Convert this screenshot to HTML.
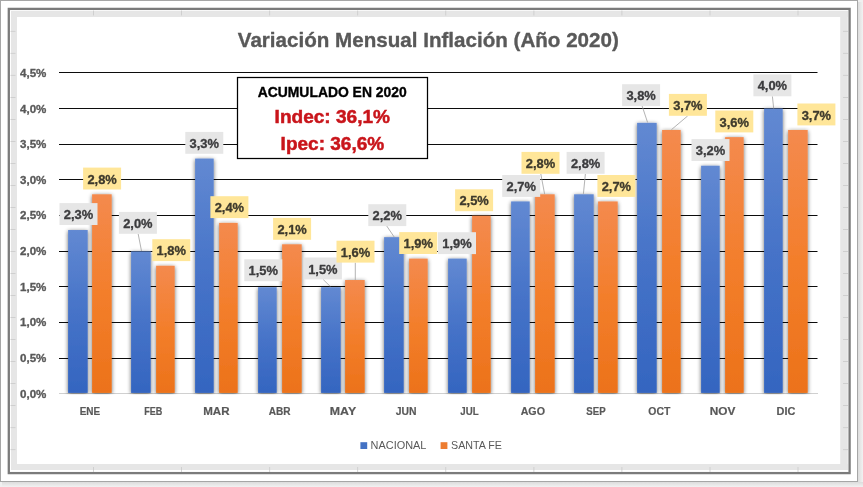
<!DOCTYPE html>
<html lang="es">
<head>
<meta charset="utf-8">
<title>Variación Mensual Inflación (Año 2020)</title>
<style>
html,body{margin:0;padding:0;background:#ebebeb;}
body{width:863px;height:487px;overflow:hidden;}
svg{display:block;}
text{font-family:"Liberation Sans",sans-serif;}
.b{font-weight:bold;}
.s{stroke-width:0.35px;stroke-linejoin:round;}
</style>
</head>
<body>
<svg width="863" height="487" viewBox="0 0 863 487">
<defs>
<linearGradient id="gb" x1="0" y1="0" x2="0" y2="1"><stop offset="0" stop-color="#6289d2"/><stop offset="0.5" stop-color="#4673c8"/><stop offset="1" stop-color="#3465c0"/></linearGradient>
<linearGradient id="go" x1="0" y1="0" x2="0" y2="1"><stop offset="0" stop-color="#f48a4e"/><stop offset="0.5" stop-color="#f37e2b"/><stop offset="1" stop-color="#ec721a"/></linearGradient>
<linearGradient id="sr" x1="0" y1="0" x2="1" y2="0"><stop offset="0" stop-color="#dcdcdc"/><stop offset="1" stop-color="#f2f2f2"/></linearGradient>
<linearGradient id="sb" x1="0" y1="0" x2="0" y2="1"><stop offset="0" stop-color="#dcdcdc"/><stop offset="1" stop-color="#f2f2f2"/></linearGradient>
<filter id="sh" x="-40%" y="-5%" width="180%" height="110%"><feGaussianBlur in="SourceAlpha" stdDeviation="2"/><feOffset dx="0" dy="1.2"/><feComponentTransfer><feFuncA type="linear" slope="0.6"/></feComponentTransfer><feMerge><feMergeNode/><feMergeNode in="SourceGraphic"/></feMerge></filter>
<clipPath id="cp"><rect x="40" y="40" width="800" height="354.3"/></clipPath>
</defs>

<rect x="0" y="0" width="863" height="487" fill="#f0f0f0"/>
<rect x="858" y="2" width="5" height="485" fill="url(#sr)"/>
<rect x="2" y="482" width="861" height="5" fill="url(#sb)"/>
<rect x="0.5" y="0.5" width="857" height="481" fill="#ffffff" stroke="#a6a6a6" stroke-width="1"/>
<rect x="8.8" y="8.9" width="840.8" height="464.2" fill="#ffffff" stroke="#7b7b7b" stroke-width="2.3"/>
<rect x="11" y="11" width="837" height="6" fill="#e6e6e6"/>
<rect x="11" y="464" width="837" height="6" fill="#e6e6e6"/>
<rect x="11" y="11" width="6" height="459" fill="#e6e6e6"/>
<rect x="840.2" y="11" width="7.6" height="459" fill="#e6e6e6"/>
<rect x="93.2" y="10.5" width="0.8" height="5" fill="#cacaca"/>
<rect x="93.2" y="467" width="0.8" height="5" fill="#cacaca"/>
<rect x="181.2" y="10.5" width="0.8" height="5" fill="#cacaca"/>
<rect x="181.2" y="467" width="0.8" height="5" fill="#cacaca"/>
<rect x="269.3" y="10.5" width="0.8" height="5" fill="#cacaca"/>
<rect x="269.3" y="467" width="0.8" height="5" fill="#cacaca"/>
<rect x="357.3" y="10.5" width="0.8" height="5" fill="#cacaca"/>
<rect x="357.3" y="467" width="0.8" height="5" fill="#cacaca"/>
<rect x="445.4" y="10.5" width="0.8" height="5" fill="#cacaca"/>
<rect x="445.4" y="467" width="0.8" height="5" fill="#cacaca"/>
<rect x="533.5" y="10.5" width="0.8" height="5" fill="#cacaca"/>
<rect x="533.5" y="467" width="0.8" height="5" fill="#cacaca"/>
<rect x="621.5" y="10.5" width="0.8" height="5" fill="#cacaca"/>
<rect x="621.5" y="467" width="0.8" height="5" fill="#cacaca"/>
<rect x="709.6" y="10.5" width="0.8" height="5" fill="#cacaca"/>
<rect x="709.6" y="467" width="0.8" height="5" fill="#cacaca"/>
<rect x="797.6" y="10.5" width="0.8" height="5" fill="#cacaca"/>
<rect x="797.6" y="467" width="0.8" height="5" fill="#cacaca"/>
<rect x="10.5" y="30.9" width="5" height="0.8" fill="#cacaca"/>
<rect x="843" y="30.9" width="5" height="0.8" fill="#cacaca"/>
<rect x="10.5" y="52.9" width="5" height="0.8" fill="#cacaca"/>
<rect x="843" y="52.9" width="5" height="0.8" fill="#cacaca"/>
<rect x="10.5" y="74.9" width="5" height="0.8" fill="#cacaca"/>
<rect x="843" y="74.9" width="5" height="0.8" fill="#cacaca"/>
<rect x="10.5" y="97.0" width="5" height="0.8" fill="#cacaca"/>
<rect x="843" y="97.0" width="5" height="0.8" fill="#cacaca"/>
<rect x="10.5" y="119.0" width="5" height="0.8" fill="#cacaca"/>
<rect x="843" y="119.0" width="5" height="0.8" fill="#cacaca"/>
<rect x="10.5" y="141.0" width="5" height="0.8" fill="#cacaca"/>
<rect x="843" y="141.0" width="5" height="0.8" fill="#cacaca"/>
<rect x="10.5" y="163.0" width="5" height="0.8" fill="#cacaca"/>
<rect x="843" y="163.0" width="5" height="0.8" fill="#cacaca"/>
<rect x="10.5" y="185.0" width="5" height="0.8" fill="#cacaca"/>
<rect x="843" y="185.0" width="5" height="0.8" fill="#cacaca"/>
<rect x="10.5" y="207.1" width="5" height="0.8" fill="#cacaca"/>
<rect x="843" y="207.1" width="5" height="0.8" fill="#cacaca"/>
<rect x="10.5" y="229.1" width="5" height="0.8" fill="#cacaca"/>
<rect x="843" y="229.1" width="5" height="0.8" fill="#cacaca"/>
<rect x="10.5" y="251.1" width="5" height="0.8" fill="#cacaca"/>
<rect x="843" y="251.1" width="5" height="0.8" fill="#cacaca"/>
<rect x="10.5" y="273.1" width="5" height="0.8" fill="#cacaca"/>
<rect x="843" y="273.1" width="5" height="0.8" fill="#cacaca"/>
<rect x="10.5" y="295.1" width="5" height="0.8" fill="#cacaca"/>
<rect x="843" y="295.1" width="5" height="0.8" fill="#cacaca"/>
<rect x="10.5" y="317.2" width="5" height="0.8" fill="#cacaca"/>
<rect x="843" y="317.2" width="5" height="0.8" fill="#cacaca"/>
<rect x="10.5" y="339.2" width="5" height="0.8" fill="#cacaca"/>
<rect x="843" y="339.2" width="5" height="0.8" fill="#cacaca"/>
<rect x="10.5" y="361.2" width="5" height="0.8" fill="#cacaca"/>
<rect x="843" y="361.2" width="5" height="0.8" fill="#cacaca"/>
<rect x="10.5" y="383.2" width="5" height="0.8" fill="#cacaca"/>
<rect x="843" y="383.2" width="5" height="0.8" fill="#cacaca"/>
<rect x="10.5" y="405.2" width="5" height="0.8" fill="#cacaca"/>
<rect x="843" y="405.2" width="5" height="0.8" fill="#cacaca"/>
<rect x="10.5" y="427.3" width="5" height="0.8" fill="#cacaca"/>
<rect x="843" y="427.3" width="5" height="0.8" fill="#cacaca"/>
<rect x="10.5" y="449.3" width="5" height="0.8" fill="#cacaca"/>
<rect x="843" y="449.3" width="5" height="0.8" fill="#cacaca"/>
<text class="b s" x="428.3" y="46.7" font-size="20.4" fill="#595959" stroke="#595959" text-anchor="middle" textLength="381" lengthAdjust="spacingAndGlyphs">Variación Mensual Inflación (Año 2020)</text>
<rect x="59" y="393.00" width="759" height="1" fill="#d0d0d0"/>
<text class="b" x="46.4" y="397.60" font-size="10.5" fill="#595959" stroke="#595959" stroke-width="0.3" text-anchor="end" textLength="26.4" lengthAdjust="spacingAndGlyphs">0,0%</text>
<rect x="59" y="358.00" width="758.5" height="1" fill="#0c0c0c"/>
<text class="b" x="46.4" y="361.97" font-size="10.5" fill="#595959" stroke="#595959" stroke-width="0.3" text-anchor="end" textLength="26.4" lengthAdjust="spacingAndGlyphs">0,5%</text>
<rect x="59" y="322.00" width="758.5" height="1" fill="#0c0c0c"/>
<text class="b" x="46.4" y="326.34" font-size="10.5" fill="#595959" stroke="#595959" stroke-width="0.3" text-anchor="end" textLength="26.4" lengthAdjust="spacingAndGlyphs">1,0%</text>
<rect x="59" y="286.00" width="758.5" height="1" fill="#0c0c0c"/>
<text class="b" x="46.4" y="290.71" font-size="10.5" fill="#595959" stroke="#595959" stroke-width="0.3" text-anchor="end" textLength="26.4" lengthAdjust="spacingAndGlyphs">1,5%</text>
<rect x="59" y="251.00" width="758.5" height="1" fill="#0c0c0c"/>
<text class="b" x="46.4" y="255.08" font-size="10.5" fill="#595959" stroke="#595959" stroke-width="0.3" text-anchor="end" textLength="26.4" lengthAdjust="spacingAndGlyphs">2,0%</text>
<rect x="59" y="215.00" width="758.5" height="1" fill="#0c0c0c"/>
<text class="b" x="46.4" y="219.45" font-size="10.5" fill="#595959" stroke="#595959" stroke-width="0.3" text-anchor="end" textLength="26.4" lengthAdjust="spacingAndGlyphs">2,5%</text>
<rect x="59" y="179.00" width="758.5" height="1" fill="#0c0c0c"/>
<text class="b" x="46.4" y="183.82" font-size="10.5" fill="#595959" stroke="#595959" stroke-width="0.3" text-anchor="end" textLength="26.4" lengthAdjust="spacingAndGlyphs">3,0%</text>
<rect x="59" y="144.00" width="758.5" height="1" fill="#0c0c0c"/>
<text class="b" x="46.4" y="148.19" font-size="10.5" fill="#595959" stroke="#595959" stroke-width="0.3" text-anchor="end" textLength="26.4" lengthAdjust="spacingAndGlyphs">3,5%</text>
<rect x="59" y="108.00" width="758.5" height="1" fill="#0c0c0c"/>
<text class="b" x="46.4" y="112.56" font-size="10.5" fill="#595959" stroke="#595959" stroke-width="0.3" text-anchor="end" textLength="26.4" lengthAdjust="spacingAndGlyphs">4,0%</text>
<rect x="59" y="72.00" width="758.5" height="1" fill="#0c0c0c"/>
<text class="b" x="46.4" y="76.93" font-size="10.5" fill="#595959" stroke="#595959" stroke-width="0.3" text-anchor="end" textLength="26.4" lengthAdjust="spacingAndGlyphs">4,5%</text>
<g clip-path="url(#cp)">
<rect x="68.1" y="230.02" width="19.6" height="162.88" fill="url(#gb)" filter="url(#sh)"/>
<rect x="92.1" y="194.29" width="19.6" height="198.61" fill="url(#go)" filter="url(#sh)"/>
<rect x="131.1" y="251.45" width="19.6" height="141.45" fill="url(#gb)" filter="url(#sh)"/>
<rect x="156.1" y="265.74" width="18.6" height="127.16" fill="url(#go)" filter="url(#sh)"/>
<rect x="195.1" y="158.57" width="18.6" height="234.33" fill="url(#gb)" filter="url(#sh)"/>
<rect x="219.1" y="222.87" width="18.6" height="170.03" fill="url(#go)" filter="url(#sh)"/>
<rect x="258.1" y="287.18" width="18.6" height="105.72" fill="url(#gb)" filter="url(#sh)"/>
<rect x="282.1" y="244.31" width="19.6" height="148.59" fill="url(#go)" filter="url(#sh)"/>
<rect x="321.1" y="287.18" width="19.6" height="105.72" fill="url(#gb)" filter="url(#sh)"/>
<rect x="345.1" y="280.03" width="19.6" height="112.87" fill="url(#go)" filter="url(#sh)"/>
<rect x="384.1" y="237.16" width="19.6" height="155.74" fill="url(#gb)" filter="url(#sh)"/>
<rect x="409.1" y="258.60" width="18.6" height="134.30" fill="url(#go)" filter="url(#sh)"/>
<rect x="448.1" y="258.60" width="18.6" height="134.30" fill="url(#gb)" filter="url(#sh)"/>
<rect x="472.1" y="215.73" width="18.6" height="177.17" fill="url(#go)" filter="url(#sh)"/>
<rect x="511.1" y="201.44" width="18.6" height="191.46" fill="url(#gb)" filter="url(#sh)"/>
<rect x="535.1" y="194.29" width="19.6" height="198.61" fill="url(#go)" filter="url(#sh)"/>
<rect x="574.1" y="194.29" width="19.6" height="198.61" fill="url(#gb)" filter="url(#sh)"/>
<rect x="598.1" y="201.44" width="19.6" height="191.46" fill="url(#go)" filter="url(#sh)"/>
<rect x="637.1" y="122.84" width="19.6" height="270.06" fill="url(#gb)" filter="url(#sh)"/>
<rect x="662.1" y="129.99" width="18.6" height="262.91" fill="url(#go)" filter="url(#sh)"/>
<rect x="701.1" y="165.71" width="18.6" height="227.19" fill="url(#gb)" filter="url(#sh)"/>
<rect x="725.1" y="137.13" width="18.6" height="255.77" fill="url(#go)" filter="url(#sh)"/>
<rect x="764.1" y="108.55" width="18.6" height="284.35" fill="url(#gb)" filter="url(#sh)"/>
<rect x="788.1" y="129.99" width="19.6" height="262.91" fill="url(#go)" filter="url(#sh)"/>
</g>
<line x1="138.2" y1="234.0" x2="141.5" y2="251.0" stroke="#a0a0a0" stroke-width="0.8"/>
<line x1="323.2" y1="279.5" x2="330.3" y2="286.5" stroke="#a0a0a0" stroke-width="0.8"/>
<line x1="355.3" y1="262.7" x2="355.3" y2="280.0" stroke="#a0a0a0" stroke-width="0.8"/>
<line x1="386.6" y1="225.8" x2="394.2" y2="237.0" stroke="#a0a0a0" stroke-width="0.8"/>
<line x1="540.8" y1="173.9" x2="544.6" y2="193.9" stroke="#a0a0a0" stroke-width="0.8"/>
<line x1="585.4" y1="173.9" x2="583.4" y2="193.9" stroke="#a0a0a0" stroke-width="0.8"/>
<line x1="642.1" y1="105.9" x2="647.6" y2="122.5" stroke="#a0a0a0" stroke-width="0.8"/>
<line x1="687.7" y1="115.9" x2="671.4" y2="129.7" stroke="#a0a0a0" stroke-width="0.8"/>
<line x1="772.4" y1="96.3" x2="773.7" y2="108.5" stroke="#a0a0a0" stroke-width="0.8"/>
<rect x="59.5" y="203.1" width="38.0" height="21.9" fill="#e6e6e6"/>
<text class="b s" x="78.5" y="219.1" font-size="13.4" fill="#3c3c3e" stroke="#3c3c3e" text-anchor="middle" textLength="29.4" lengthAdjust="spacingAndGlyphs">2,3%</text>
<rect x="83.1" y="167.6" width="38.0" height="21.9" fill="#ffe699"/>
<text class="b s" x="102.1" y="183.6" font-size="13.4" fill="#3e3a2c" stroke="#3e3a2c" text-anchor="middle" textLength="29.4" lengthAdjust="spacingAndGlyphs">2,8%</text>
<rect x="118.9" y="211.9" width="38.0" height="21.9" fill="#e6e6e6"/>
<text class="b s" x="137.9" y="227.9" font-size="13.4" fill="#3c3c3e" stroke="#3c3c3e" text-anchor="middle" textLength="29.4" lengthAdjust="spacingAndGlyphs">2,0%</text>
<rect x="152.3" y="239.2" width="38.0" height="21.9" fill="#ffe699"/>
<text class="b s" x="171.3" y="255.2" font-size="13.4" fill="#3e3a2c" stroke="#3e3a2c" text-anchor="middle" textLength="29.4" lengthAdjust="spacingAndGlyphs">1,8%</text>
<rect x="185.3" y="131.9" width="38.0" height="21.9" fill="#e6e6e6"/>
<text class="b s" x="204.3" y="147.9" font-size="13.4" fill="#3c3c3e" stroke="#3c3c3e" text-anchor="middle" textLength="29.4" lengthAdjust="spacingAndGlyphs">3,3%</text>
<rect x="210.4" y="196.2" width="38.0" height="21.9" fill="#ffe699"/>
<text class="b s" x="229.4" y="212.2" font-size="13.4" fill="#3e3a2c" stroke="#3e3a2c" text-anchor="middle" textLength="29.4" lengthAdjust="spacingAndGlyphs">2,4%</text>
<rect x="244.3" y="259.3" width="38.0" height="21.9" fill="#e6e6e6"/>
<text class="b s" x="263.3" y="275.3" font-size="13.4" fill="#3c3c3e" stroke="#3c3c3e" text-anchor="middle" textLength="29.4" lengthAdjust="spacingAndGlyphs">1,5%</text>
<rect x="273.1" y="217.9" width="38.0" height="21.9" fill="#ffe699"/>
<text class="b s" x="292.1" y="233.9" font-size="13.4" fill="#3e3a2c" stroke="#3e3a2c" text-anchor="middle" textLength="29.4" lengthAdjust="spacingAndGlyphs">2,1%</text>
<rect x="303.9" y="257.5" width="38.0" height="21.9" fill="#e6e6e6"/>
<text class="b s" x="322.9" y="273.5" font-size="13.4" fill="#3c3c3e" stroke="#3c3c3e" text-anchor="middle" textLength="29.4" lengthAdjust="spacingAndGlyphs">1,5%</text>
<rect x="336.5" y="240.7" width="38.0" height="21.9" fill="#ffe699"/>
<text class="b s" x="355.5" y="256.7" font-size="13.4" fill="#3e3a2c" stroke="#3e3a2c" text-anchor="middle" textLength="29.4" lengthAdjust="spacingAndGlyphs">1,6%</text>
<rect x="368.3" y="204.2" width="38.0" height="21.9" fill="#e6e6e6"/>
<text class="b s" x="387.3" y="220.2" font-size="13.4" fill="#3c3c3e" stroke="#3c3c3e" text-anchor="middle" textLength="29.4" lengthAdjust="spacingAndGlyphs">2,2%</text>
<rect x="399.2" y="232.1" width="38.0" height="21.9" fill="#ffe699"/>
<text class="b s" x="418.2" y="248.1" font-size="13.4" fill="#3e3a2c" stroke="#3e3a2c" text-anchor="middle" textLength="29.4" lengthAdjust="spacingAndGlyphs">1,9%</text>
<rect x="438.0" y="232.2" width="38.0" height="21.9" fill="#e6e6e6"/>
<text class="b s" x="457.0" y="248.2" font-size="13.4" fill="#3c3c3e" stroke="#3c3c3e" text-anchor="middle" textLength="29.4" lengthAdjust="spacingAndGlyphs">1,9%</text>
<rect x="455.1" y="189.3" width="38.0" height="21.9" fill="#ffe699"/>
<text class="b s" x="474.1" y="205.3" font-size="13.4" fill="#3e3a2c" stroke="#3e3a2c" text-anchor="middle" textLength="29.4" lengthAdjust="spacingAndGlyphs">2,5%</text>
<rect x="502.2" y="175.0" width="38.0" height="21.9" fill="#e6e6e6"/>
<text class="b s" x="521.2" y="191.0" font-size="13.4" fill="#3c3c3e" stroke="#3c3c3e" text-anchor="middle" textLength="29.4" lengthAdjust="spacingAndGlyphs">2,7%</text>
<rect x="521.5" y="151.9" width="38.0" height="21.9" fill="#ffe699"/>
<text class="b s" x="540.5" y="167.9" font-size="13.4" fill="#3e3a2c" stroke="#3e3a2c" text-anchor="middle" textLength="29.4" lengthAdjust="spacingAndGlyphs">2,8%</text>
<rect x="566.6" y="151.9" width="38.0" height="21.9" fill="#e6e6e6"/>
<text class="b s" x="585.6" y="167.9" font-size="13.4" fill="#3c3c3e" stroke="#3c3c3e" text-anchor="middle" textLength="29.4" lengthAdjust="spacingAndGlyphs">2,8%</text>
<rect x="597.4" y="175.0" width="38.0" height="21.9" fill="#ffe699"/>
<text class="b s" x="616.4" y="191.0" font-size="13.4" fill="#3e3a2c" stroke="#3e3a2c" text-anchor="middle" textLength="29.4" lengthAdjust="spacingAndGlyphs">2,7%</text>
<rect x="622.1" y="84.2" width="38.0" height="21.9" fill="#e6e6e6"/>
<text class="b s" x="641.1" y="100.2" font-size="13.4" fill="#3c3c3e" stroke="#3c3c3e" text-anchor="middle" textLength="29.4" lengthAdjust="spacingAndGlyphs">3,8%</text>
<rect x="668.9" y="93.9" width="38.0" height="21.9" fill="#ffe699"/>
<text class="b s" x="687.9" y="109.9" font-size="13.4" fill="#3e3a2c" stroke="#3e3a2c" text-anchor="middle" textLength="29.4" lengthAdjust="spacingAndGlyphs">3,7%</text>
<rect x="691.5" y="139.1" width="38.0" height="21.9" fill="#e6e6e6"/>
<text class="b s" x="710.5" y="155.1" font-size="13.4" fill="#3c3c3e" stroke="#3c3c3e" text-anchor="middle" textLength="29.4" lengthAdjust="spacingAndGlyphs">3,2%</text>
<rect x="715.3" y="110.5" width="38.0" height="21.9" fill="#ffe699"/>
<text class="b s" x="734.3" y="126.5" font-size="13.4" fill="#3e3a2c" stroke="#3e3a2c" text-anchor="middle" textLength="29.4" lengthAdjust="spacingAndGlyphs">3,6%</text>
<rect x="753.4" y="74.4" width="38.0" height="21.9" fill="#e6e6e6"/>
<text class="b s" x="772.4" y="90.4" font-size="13.4" fill="#3c3c3e" stroke="#3c3c3e" text-anchor="middle" textLength="29.4" lengthAdjust="spacingAndGlyphs">4,0%</text>
<rect x="797.4" y="103.5" width="38.0" height="21.9" fill="#ffe699"/>
<text class="b s" x="816.4" y="119.5" font-size="13.4" fill="#3e3a2c" stroke="#3e3a2c" text-anchor="middle" textLength="29.4" lengthAdjust="spacingAndGlyphs">3,7%</text>
<text class="b" x="89.9" y="414.8" font-size="10.7" fill="#595959" stroke="#595959" stroke-width="0.2" text-anchor="middle" textLength="20.5" lengthAdjust="spacingAndGlyphs">ENE</text>
<text class="b" x="153.2" y="414.8" font-size="10.7" fill="#595959" stroke="#595959" stroke-width="0.2" text-anchor="middle" textLength="18.1" lengthAdjust="spacingAndGlyphs">FEB</text>
<text class="b" x="216.4" y="414.8" font-size="10.7" fill="#595959" stroke="#595959" stroke-width="0.2" text-anchor="middle" textLength="26.3" lengthAdjust="spacingAndGlyphs">MAR</text>
<text class="b" x="279.7" y="414.8" font-size="10.7" fill="#595959" stroke="#595959" stroke-width="0.2" text-anchor="middle" textLength="21.8" lengthAdjust="spacingAndGlyphs">ABR</text>
<text class="b" x="343.0" y="414.8" font-size="10.7" fill="#595959" stroke="#595959" stroke-width="0.2" text-anchor="middle" textLength="26.3" lengthAdjust="spacingAndGlyphs">MAY</text>
<text class="b" x="406.2" y="414.8" font-size="10.7" fill="#595959" stroke="#595959" stroke-width="0.2" text-anchor="middle" textLength="20.8" lengthAdjust="spacingAndGlyphs">JUN</text>
<text class="b" x="469.5" y="414.8" font-size="10.7" fill="#595959" stroke="#595959" stroke-width="0.2" text-anchor="middle" textLength="18.3" lengthAdjust="spacingAndGlyphs">JUL</text>
<text class="b" x="532.8" y="414.8" font-size="10.7" fill="#595959" stroke="#595959" stroke-width="0.2" text-anchor="middle" textLength="24.3" lengthAdjust="spacingAndGlyphs">AGO</text>
<text class="b" x="596.0" y="414.8" font-size="10.7" fill="#595959" stroke="#595959" stroke-width="0.2" text-anchor="middle" textLength="19.3" lengthAdjust="spacingAndGlyphs">SEP</text>
<text class="b" x="659.3" y="414.8" font-size="10.7" fill="#595959" stroke="#595959" stroke-width="0.2" text-anchor="middle" textLength="22.0" lengthAdjust="spacingAndGlyphs">OCT</text>
<text class="b" x="722.6" y="414.8" font-size="10.7" fill="#595959" stroke="#595959" stroke-width="0.2" text-anchor="middle" textLength="25.6" lengthAdjust="spacingAndGlyphs">NOV</text>
<text class="b" x="785.9" y="414.8" font-size="10.7" fill="#595959" stroke="#595959" stroke-width="0.2" text-anchor="middle" textLength="18.8" lengthAdjust="spacingAndGlyphs">DIC</text>
<rect x="360.4" y="442.2" width="6.8" height="6.8" fill="#4472c4"/>
<text x="370.6" y="449.3" font-size="11.2" fill="#595959" textLength="55.8" lengthAdjust="spacingAndGlyphs">NACIONAL</text>
<rect x="440.6" y="442.2" width="6.8" height="6.8" fill="#ed7d31"/>
<text x="451" y="449.3" font-size="11.2" fill="#595959" textLength="51" lengthAdjust="spacingAndGlyphs">SANTA FE</text>
<rect x="237.5" y="77.5" width="190" height="81" fill="#ffffff" stroke="#000000" stroke-width="1.25"/>
<text class="b s" x="332.2" y="96.8" font-size="13.9" fill="#000000" stroke="#000000" text-anchor="middle" textLength="149" lengthAdjust="spacingAndGlyphs">ACUMULADO EN 2020</text>
<text class="b" x="332.3" y="123" font-size="18.8" fill="#c9151b" stroke="#c9151b" stroke-width="0.5" text-anchor="middle" textLength="115.4" lengthAdjust="spacingAndGlyphs">Indec: 36,1%</text>
<text class="b" x="332.4" y="150.1" font-size="18.8" fill="#c9151b" stroke="#c9151b" stroke-width="0.5" text-anchor="middle" textLength="103.6" lengthAdjust="spacingAndGlyphs">Ipec: 36,6%</text>
</svg>
</body>
</html>
